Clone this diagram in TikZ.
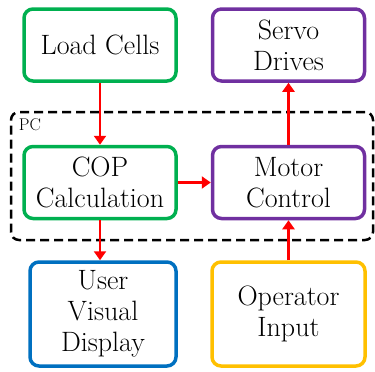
\documentclass[tikz,border=0pt]{standalone}
\usepackage{tikz}
\usetikzlibrary{arrows.meta,positioning}

\definecolor{cellgreen}{HTML}{00B050}
\definecolor{drivepurple}{HTML}{7030A0}
\definecolor{displayblue}{HTML}{0070C0}
\definecolor{inputyellow}{HTML}{FFC000}

\begin{document}
\begin{tikzpicture}[node distance=188.5pt,on grid,
    block/.style={draw,line width=3.5pt,rounded corners=9pt,align=center,
        minimum width=152pt,minimum height=72pt,
        font=\fontsize{28}{31}\selectfont},
    tall/.style={minimum height=104pt},
    flow/.style={draw=red,line width=2.6pt,-{Triangle[length=9pt,width=12pt]}}]
    \useasboundingbox (0,0) rectangle (375pt,-372pt);

    % dashed PC frame
    \node[draw,dashed,dash pattern=on 9pt off 5pt,line width=2.5pt,rounded corners=8pt,
        minimum width=362pt,minimum height=128pt] (pc) at (192pt,-176pt) {};
    \node[anchor=north west,inner sep=0pt,font=\fontsize{17}{19}\selectfont]
        (pc_label) at ([shift={(9pt,-8pt)}]pc.north west) {PC};

    \node[block,draw=cellgreen] (load) at (100pt,-45pt) {Load Cells};
    \node[block,draw=drivepurple] (servo) [right=of load] {Servo\\Drives};
    \node[block,draw=cellgreen] (cop) [below=137.5pt of load] {COP\\Calculation};
    \node[block,draw=drivepurple] (motor) [right=of cop] {Motor\\Control};
    \node[block,tall,draw=displayblue,minimum width=146pt] (display)
        [below=131.5pt of cop,xshift=3pt] {User\\Visual\\Display};
    \node[block,tall,draw=inputyellow,minimum width=153pt] (operator)
        [right=185.5pt of display] {Operator\\Input};

    \draw[flow] (load) -- (cop);
    \draw[flow] (cop) -- (motor);
    \draw[flow] (cop.south) -- (cop.south |- display.north);
    \draw[flow] (motor) -- (servo);
    \draw[flow] (operator) -- (motor);
\end{tikzpicture}
\end{document}
